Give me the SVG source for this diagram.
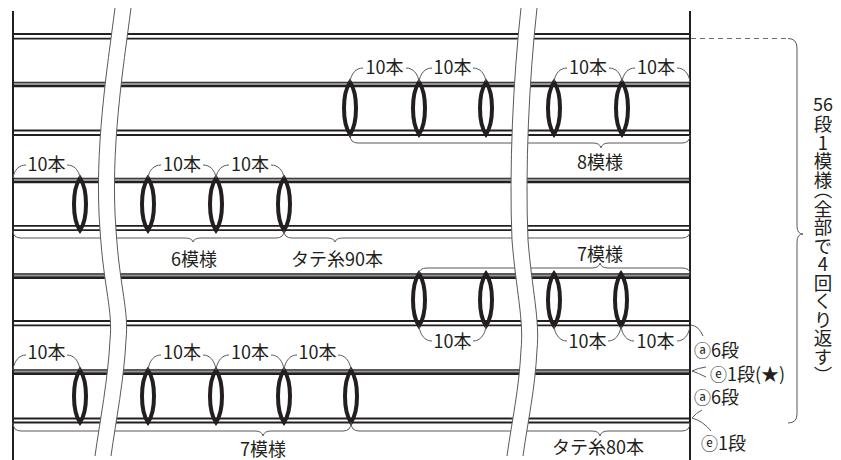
<svg xmlns="http://www.w3.org/2000/svg" width="841" height="460" viewBox="0 0 841 460">
<style>
.bk{stroke:#231f20;stroke-width:1.8;fill:none}
.blk{stroke:#231f20;stroke-width:5.6;fill:none}
.gr{stroke:#939598;stroke-width:2.2;fill:none}
.br{stroke:#58595b;stroke-width:1;fill:none}
.lp{stroke:#231f20;stroke-width:4;fill:none}
.bd{stroke:#231f20;stroke-width:2;fill:none}
.bf{fill:#fff;stroke:none}
.be{stroke:#58595b;stroke-width:1;fill:none}
.ds{stroke:#6d6e71;stroke-width:1;fill:none;stroke-dasharray:5 4}
text{font-family:"Noto Sans CJK JP","Noto Sans",sans-serif;font-size:18px;fill:#231f20}
.c{text-anchor:middle}
.ci{font-family:"DejaVu Sans","Noto Sans CJK JP",sans-serif;font-size:17px}
.v{font-size:18.5px;writing-mode:vertical-rl;text-orientation:upright}
</style>
<defs>
<path id="loop" d="M0,0 C-8,12 -8,40.5 0,52.5 C8,40.5 8,12 0,0 Z"/>
</defs>

<g id="rows">
<path class="bk" d="M13,34H690M13,38.7H690"/>
<path class="blk" d="M13,84.5H690"/><path class="gr" d="M13,83.9H690"/>
<path class="bk" d="M13,130.5H690M13,135H690"/>
<path class="blk" d="M13,180.5H690"/><path class="gr" d="M13,179.9H690"/>
<path class="bk" d="M13,225.8H690M13,230.2H690"/>
<path class="blk" d="M13,276.1H690"/><path class="gr" d="M13,275.5H690"/>
<path class="bk" d="M13,321H690M13,325.3H690"/>
<path class="blk" d="M13,372.1H690"/><path class="gr" d="M13,371.5H690"/>
<path class="bk" d="M13,418.5H690M13,422.5H690"/>
</g>
<g id="borders">
<path class="bd" d="M13,11V460M690,11V460"/>
</g>

<g id="loops-row2" class="lp">
<use href="#loop" x="350" y="82"/><use href="#loop" x="419" y="82"/><use href="#loop" x="486" y="82"/><use href="#loop" x="554" y="82"/><use href="#loop" x="622" y="82"/>
</g>
<g id="loops-row4" class="lp">
<use href="#loop" x="80" y="178"/><use href="#loop" x="148" y="178"/><use href="#loop" x="216" y="178"/><use href="#loop" x="284" y="178"/>
</g>
<g id="loops-row6" class="lp">
<use href="#loop" x="419" y="273.5"/><use href="#loop" x="486" y="273.5"/><use href="#loop" x="554" y="273.5"/><use href="#loop" x="621" y="273.5"/>
</g>
<g id="loops-row8" class="lp">
<use href="#loop" x="80" y="370"/><use href="#loop" x="148" y="370"/><use href="#loop" x="216" y="370"/><use href="#loop" x="284" y="370"/><use href="#loop" x="351" y="370"/>
</g>

<g id="connectors" class="br">
<!-- row 2 top -->
<path d="M350,82 C351,73.6 356,68 363,68 M406,68 C413,68 418,73.6 419,82"/>
<path d="M419,82 C420,73.6 425,68 432,68 M473,68 C480,68 485,73.6 486,82"/>
<path d="M554,82 C555,73.6 560,68 567,68 M609,68 C616,68 621,73.6 622,82"/>
<path d="M622,82 C623,73.6 628,68 635,68 M677,68 C684,68 689,73.6 690,82"/>
<!-- row 4 top -->
<path d="M13,178 C14,170 19,165 26,165 M67,165 C74,165 79,170 80,178"/>
<path d="M148,178 C149,170 154,165 161,165 M203,165 C210,165 215,170 216,178"/>
<path d="M216,178 C217,170 222,165 229,165 M271,165 C278,165 283,170 284,178"/>
<!-- row 6 bottom -->
<path d="M419,326 C420,335 425,341 432,341 M473,341 C480,341 485,335 486,326"/>
<path d="M554,326 C555,335 560,341 567,341 M608,341 C615,341 620,335 621,326"/>
<path d="M621,326 C622,335 627,341 634,341 M677,341 C684,341 689,335 690,326"/>
<!-- row 8 top -->
<path d="M13,370 C14,361 19,355 26,355 M67,355 C74,355 79,361 80,370"/>
<path d="M148,370 C149,361 154,355 161,355 M203,355 C210,355 215,361 216,370"/>
<path d="M216,370 C217,361 222,355 229,355 M271,355 C278,355 283,361 284,370"/>
<path d="M284,370 C285,361 290,355 297,355 M338,355 C345,355 350,361 351,370"/>
<!-- curly braces -->
<path d="M350,135 Q350,143 358,143 L593,143 Q600,143 601,148 Q602,143 609,143 L682,143 Q690,143 690,135"/>
<path d="M13,230.5 Q13,238 21,238 L185,238 Q192,238 193,242 Q194,238 201,238 L276,238 Q284,238 284,230.5"/>
<path d="M284,230.5 Q284,238 292,238 L327,238 Q334,238 335,242 Q336,238 343,238 L682,238 Q690,238 690,230.5"/>
<path d="M419,274 Q419,268 427,268 L592,268 Q599,268 600,263 Q601,268 608,268 L682,268 Q690,268 690,274"/>
<path d="M13,422.5 Q13,431 21,431 L255,431 Q262,431 263,436 Q264,431 271,431 L343,431 Q351,431 351,422.5"/>
<path d="M351,422.5 Q351,431 359,431 L592,431 Q599,431 600,436 Q601,431 608,431 L682,431 Q690,431 690,422.5"/>
<!-- right leaders -->
<path d="M691,325 Q699,326 703,336"/>
<path d="M692,371 Q698,368 706,367 M692,371 Q698,373 706,377"/>
<path d="M692,418 Q696,413 702,410 M692,418 Q703,421 711,431"/>
<!-- overall bracket -->
<path class="ds" d="M691,38.5H788"/>
<path d="M788,38.5 Q797,38.5 797,48 L797,226 Q797,234 803,234 Q797,234 797,242 L797,414 Q797,423 788,423"/>
</g>

<g id="breaks">
<path class="bf" d="M115,8 C107,70 94,150 100,230 C104,290 113,310 110,340 C108,380 100,420 95,456 L111,456 C116,420 124,380 126,340 C129,310 120,290 116,230 C110,150 123,70 131,8 Z"/>
<path class="be" d="M115,8 C107,70 94,150 100,230 C104,290 113,310 110,340 C108,380 100,420 95,456 M131,8 C123,70 110,150 116,230 C120,290 129,310 126,340 C124,380 116,420 111,456"/>
<path class="bf" d="M521,8 C513,80 509,170 512,240 C516,290 524,320 521,350 C519,390 512,420 507,456 L523,456 C528,420 535,390 537,350 C540,320 532,290 528,240 C525,170 529,80 537,8 Z"/>
<path class="be" d="M521,8 C513,80 509,170 512,240 C516,290 524,320 521,350 C519,390 512,420 507,456 M537,8 C529,80 525,170 528,240 C532,290 540,320 537,350 C535,390 528,420 523,456"/>
</g>

<g id="labels">
<text class="c" x="384.5" y="74">10本</text>
<text class="c" x="452.5" y="74">10本</text>
<text class="c" x="588" y="74">10本</text>
<text class="c" x="656" y="74">10本</text>
<text class="c" x="600" y="168.5">8模様</text>
<text class="c" x="46.5" y="171">10本</text>
<text class="c" x="182" y="171">10本</text>
<text class="c" x="250" y="171">10本</text>
<text class="c" x="194" y="266">6模様</text>
<text class="c" x="337" y="266">タテ糸90本</text>
<text class="c" x="600" y="261">7模様</text>
<text class="c" x="452.5" y="348">10本</text>
<text class="c" x="587.5" y="348">10本</text>
<text class="c" x="655.5" y="348">10本</text>
<text class="c" x="46.5" y="359">10本</text>
<text class="c" x="182" y="359">10本</text>
<text class="c" x="250" y="359">10本</text>
<text class="c" x="317.5" y="359">10本</text>
<text class="c" x="263" y="456">7模様</text>
<text class="c" x="598" y="454">タテ糸80本</text>
</g>
<g id="side-labels">
<text x="694" y="357"><tspan class="ci">ⓐ</tspan>6段</text>
<text x="710" y="381"><tspan class="ci">ⓔ</tspan>1段(★)</text>
<text x="694" y="404"><tspan class="ci">ⓐ</tspan>6段</text>
<text x="701" y="450"><tspan class="ci">ⓔ</tspan>1段</text>
</g>
<g id="vertical-label">
<text class="c" x="823" y="111" font-size="19">56</text>
<text class="v" x="823" y="115">段1模<tspan letter-spacing="-8">様</tspan>（全部で4回くり返す）</text>
</g>
</svg>
